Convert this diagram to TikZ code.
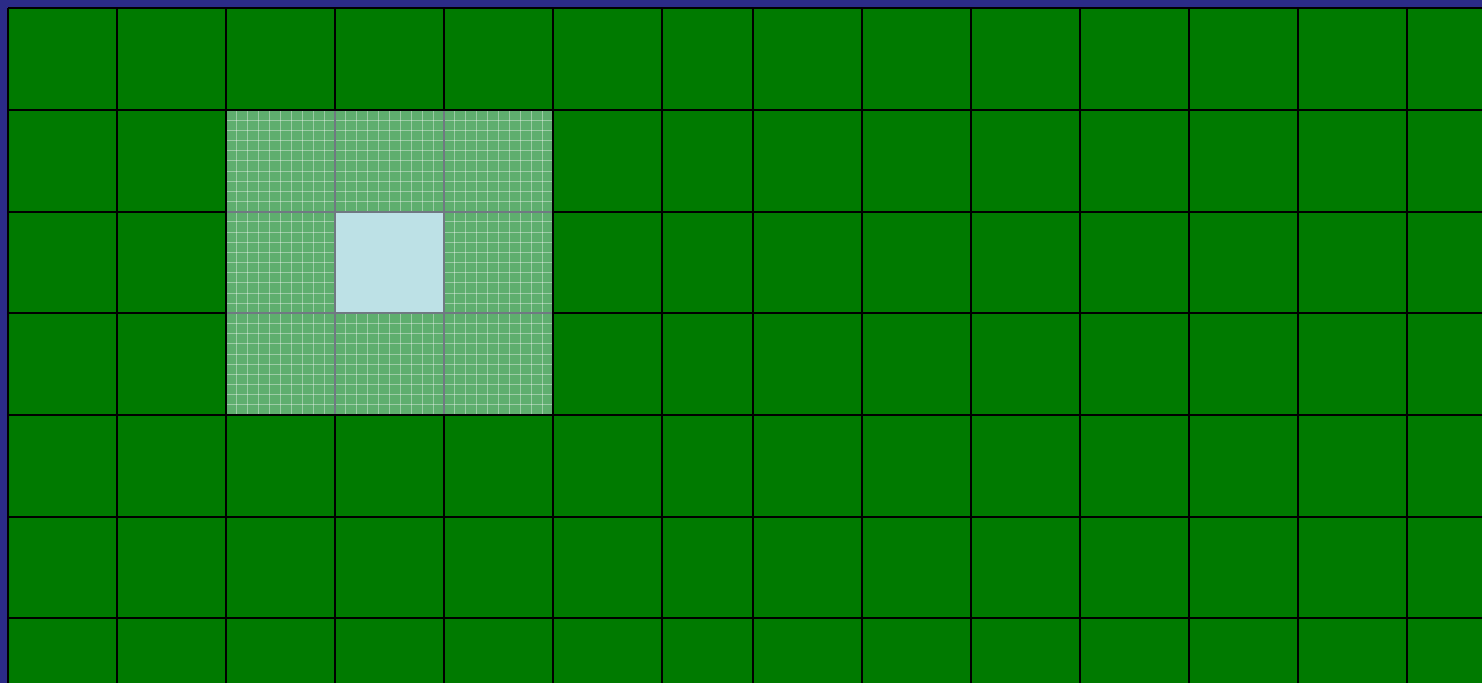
\documentclass[tikz,border=0pt]{standalone}
\usepackage{tikz}
\definecolor{navy}{RGB}{43,43,135}
\definecolor{field}{RGB}{0,122,0}
\definecolor{zone}{RGB}{94,174,110}
\definecolor{target}{RGB}{189,225,230}
\definecolor{seam}{RGB}{112,120,130}
\tikzset{
  cellline/.style={draw=black, line width=1.1pt},
  fineline/.style={draw=white, opacity=0.38, line width=0.55pt},
  seamline/.style={draw=seam, line width=1pt},
}

\begin{document}
\begin{tikzpicture}[x=0.02cm, y=-0.02cm]
  \useasboundingbox (0,0) rectangle (1482,683);
  % frame and field
  \fill[navy]  (0,0) rectangle (1482,683);
  \fill[field] (8,8) rectangle (1482,683);
  % coarse grid
  \foreach \x in {8,117,226,335,444,553,662,753,862,971,1080,1189,1298,1407}
    \draw[cellline] (\x,8) -- (\x,683);
  \foreach \y in {8,110,212,313,415,517,618}
    \draw[cellline] (8,\y) -- (1482,\y);
  % refined neighbourhood
  \fill[zone] (226,110) rectangle (553,415);
  \foreach \i in {1,...,29}
    \draw[fineline] ({226+\i*10.9},110) -- ({226+\i*10.9},415);
  \foreach \j in {1,...,29}
    \draw[fineline] (226,{110+\j*10.167}) -- (553,{110+\j*10.167});
  \foreach \x in {335,444}
    \draw[seamline] (\x,110) -- (\x,415);
  \foreach \y in {212,313}
    \draw[seamline] (226,\y) -- (553,\y);
  % centre cell
  \filldraw[target, draw=seam, line width=1pt] (335,212) rectangle (444,313);
  \draw[cellline] (226,110) rectangle (553,415);
\end{tikzpicture}
\end{document}
